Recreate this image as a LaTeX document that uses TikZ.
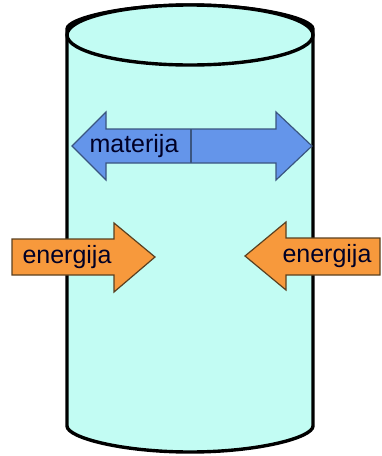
\documentclass[tikz,border=0pt]{standalone}
\usepackage{fontspec}
\setmainfont{Liberation Sans}
\definecolor{cylfill}{HTML}{C2FCF3}
\definecolor{bluefill}{HTML}{6495EA}
\definecolor{blueedge}{HTML}{3A5580}
\definecolor{orfill}{HTML}{F7993C}
\definecolor{oredge}{HTML}{5A4020}
\begin{document}
\begin{tikzpicture}[x=1pt,y=1pt,
  cyl/.style={line width=3.4pt,draw=black,fill=cylfill,rounded corners=6pt},
  bluearrow/.style={fill=bluefill,draw=blueedge,line width=1.2pt,line join=miter},
  orarrow/.style={fill=orfill,draw=oredge,line width=1.2pt,line join=miter},
  lbl/.style={inner sep=0pt,text=black!85!blue,font=\fontsize{25}{25}\selectfont}]
\useasboundingbox (0,0) rectangle (382,-456);
% cylinder body
\path[cyl] (67,-35) -- (67,-420) arc (180:360:123pt and 32pt) -- (313,-35) arc (0:180:123pt and 30pt) -- cycle;
\draw[cyl,rounded corners=0pt] (190,-35) ellipse (123pt and 30pt);
% blue double arrow
\path[bluearrow] (72,-146) -- (106,-112) -- (106,-129) -- (276,-129) -- (276,-112) -- (312,-146) -- (276,-180) -- (276,-163) -- (106,-163) -- (106,-180) -- cycle;
\draw[blueedge,line width=1.2pt] (191,-129) -- (191,-163);
% orange arrows
\path[orarrow] (12,-239) -- (114,-239) -- (114,-223) -- (155,-257) -- (114,-292) -- (114,-275) -- (12,-275) -- cycle;
\path[orarrow] (380,-238) -- (286,-238) -- (286,-222) -- (245,-256) -- (286,-290) -- (286,-275) -- (380,-275) -- cycle;
% labels
\node[lbl] (mat) at (134,-146) {materija};
\node[lbl] (en1) at (67,-257) {energija};
\node[lbl] (en2) at (327,-256) {energija};
\end{tikzpicture}
\end{document}
